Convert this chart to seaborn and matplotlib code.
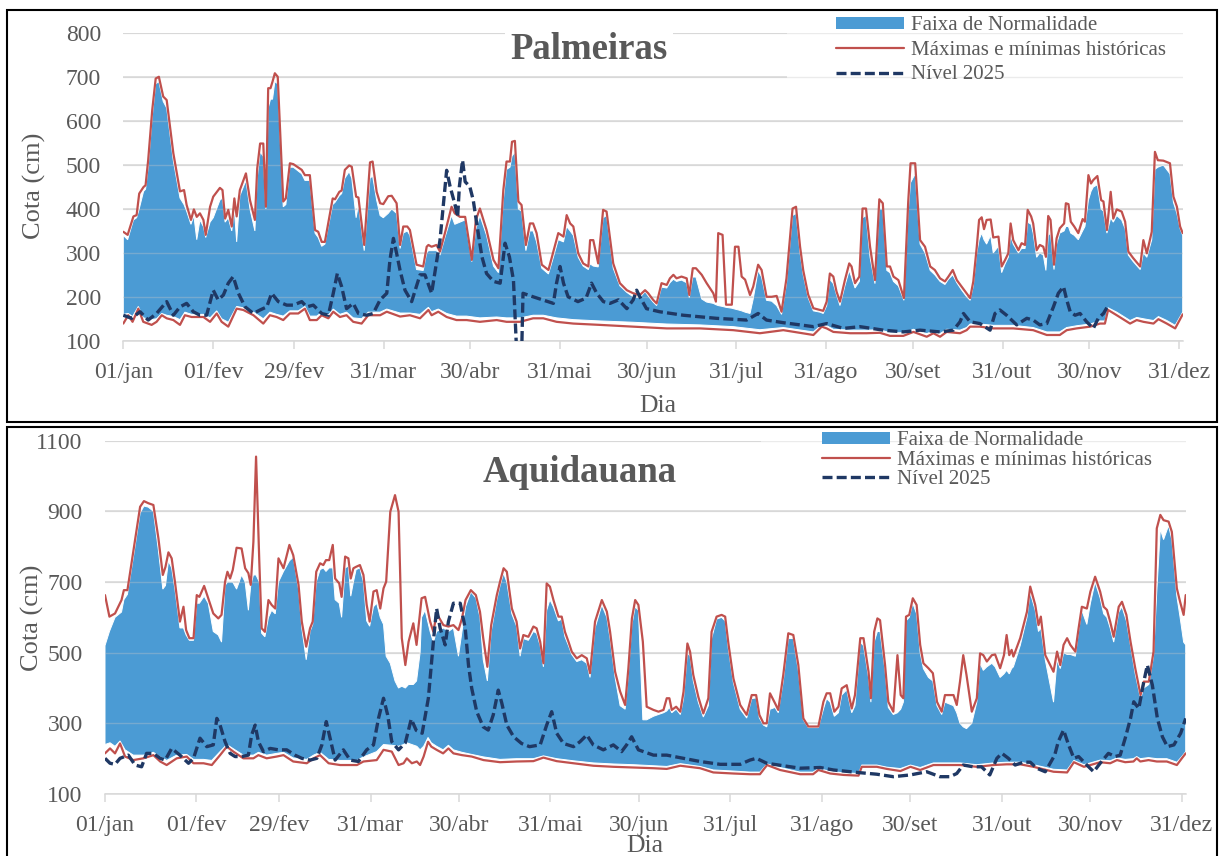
import matplotlib
matplotlib.use("Agg")
import numpy as np
import pandas as pd
import matplotlib.pyplot as plt
from matplotlib.patches import Rectangle, Patch
from matplotlib.lines import Line2D
import seaborn as sns

# ---------------- data ----------------
tick_days = [0, 31, 59, 90, 120, 151, 181, 212, 243, 273, 304, 334, 365]
tick_labels = ["01/jan", "01/fev", "29/fev", "31/mar", "30/abr", "31/mai", "30/jun",
               "31/jul", "31/ago", "30/set", "31/out", "30/nov", "31/dez"]
legend_labels = ["Faixa de Normalidade", "Máximas e mínimas históricas", "Nível 2025"]

# Palmeiras: (day, historical max, upper limit of normal band)
pal_hi = [(0,348,340),(1.5,341,330),(3.5,383,375),(4.6,386,380),(5.5,435,400),(7,450,440),(7.7,454,445),(8.6,511,495),(10,625,610),(11.2,697,685),(12.3,701,690),(13.8,656,645),(15,648,630),(17.3,527,510),(19.6,440,425),(21,443,410),(21.9,409,395),(23.4,375,365),(24.4,399,385),(25.4,382,330),(26.5,390,375),(27.7,375,360),(28.5,341,335),(30,405,370),(31.1,428,380),(33.4,448,420),(34.3,443,425),(35.2,378,370),(36.3,398,380),(37.5,360,350),(38.4,424,400),(39.2,383,325),(40.3,443,430),(42.4,481,465),(43.8,420,400),(45.5,375,350),(46.3,492,470),(47.3,549,530),(48.4,549,520),(49.3,405,400),(50.1,675,630),(50.9,675,650),(51.6,690,650),(52.4,709,690),(53.4,701,685),(55.3,417,405),(56.2,424,410),(57.6,504,495),(58.8,502,495),(61.7,489,480),(62.8,477,465),(64.5,477,465),(66.3,352,345),(67.4,348,335),(68.6,325,315),(69.7,325,320),(72.4,424,410),(73.2,422,415),(74.7,439,430),(75.5,442,435),(76.6,489,470),(78.1,499,485),(79,496,470),(80.5,428,380),(81.3,426,410),(83.3,318,305),(85.3,506,470),(86.2,508,475),(87.6,439,420),(88.8,413,385),(89.9,411,380),(91.6,429,390),(92.8,430,400),(94.5,413,390),(95.7,318,310),(96.8,360,345),(98.2,360,350),(99.1,352,340),(101.4,273,262),(103.7,269,260),(104.9,314,300),(105.5,318,305),(106.6,314,305),(108.3,318,305),(109.5,303,295),(111.2,345,335),(113.5,405,385),(114.6,390,365),(116.4,382,370),(118.2,382,375),(120.5,284,280),(121.9,375,355),(123.3,401,385),(125.6,352,340),(128,284,270),(129.7,265,255),(131.4,443,420),(132.5,508,490),(133.7,508,495),(134.4,553,520),(135.4,555,530),(136.6,417,400),(137.7,409,395),(139.2,318,305),(140.6,367,350),(141.7,367,350),(142.9,345,325),(144.7,273,265),(147,261,252),(148.7,303,290),(150.4,345,330),(152.2,337,325),(153.3,386,360),(154.5,367,350),(155.6,360,340),(157.3,299,290),(159,276,270),(160.8,269,262),(161.4,329,275),(162.5,329,270),(164.2,276,268),(165.9,398,380),(167.1,394,385),(169.4,276,265),(171.7,231,225),(174.1,215,210),(176.3,208,200),(178.6,204,198),(180.4,215,212),(181.5,208,202),(183.2,193,188),(184.4,185,180),(186.1,231,222),(187.9,227,220),(189,242,232),(190.2,250,240),(191.3,242,235),(193,246,238),(194.8,242,232),(195.7,204,198),(196.9,265,245),(198,265,245),(200,250,195),(201.7,231,188),(204,208,185),(204.9,189,182),(205.7,345,180),(207.2,341,178),(208.4,182,176),(210.4,182,174),(211.5,314,172),(212.7,314,170),(213.8,246,168),(215,239,165),(216.7,204,162),(217.8,223,195),(219.5,273,260),(220.7,261,245),(222.4,200,192),(224.2,200,190),(225.9,202,180),(227.6,166,160),(229.3,242,230),(231.4,401,385),(232.6,405,390),(234,314,300),(235.1,260,250),(236.8,205,198),(238.6,174,168),(240.9,170,165),(242,168,162),(243.2,189,180),(244.3,253,240),(245.5,246,230),(246.6,212,205),(247.8,189,180),(249.5,238,225),(251,276,260),(251.8,269,245),(253,231,220),(254.5,246,235),(255.6,401,380),(256.8,401,385),(258.2,314,290),(259.9,238,230),(261.4,422,400),(262.6,413,400),(264,269,260),(265.1,269,255),(266.3,246,235),(268,238,225),(269.9,197,192),(271.4,417,395),(272.2,504,460),(273.8,504,480),(275.5,329,320),(277.2,314,300),(279,269,260),(280.6,261,250),(282.4,242,235),(284.1,235,228),(285.3,246,240),(286.8,261,250),(288.2,238,232),(289.9,223,215),(291.6,208,200),(292.8,197,192),(293.9,235,225),(295.1,314,300),(295.9,375,330),(296.8,381,345),(297.6,354,330),(298.5,375,320),(299.9,376,340),(300.8,335,300),(302.6,337,315),(303.7,269,255),(304.9,284,275),(306,299,290),(306.8,367,340),(307.7,329,320),(309.5,306,300),(310.6,322,310),(311.8,318,310),(312.7,398,370),(313.9,383,365),(314.6,367,345),(315.8,306,290),(316.9,318,300),(318.1,314,295),(319,291,260),(319.8,384,340),(320.6,375,345),(321.8,273,262),(322.7,333,320),(323.8,356,345),(325.3,367,350),(325.9,413,360),(326.8,411,360),(327.6,371,345),(328.8,360,340),(330.2,345,330),(331.7,377,350),(332.5,371,360),(333.7,477,420),(334.6,458,440),(335.4,466,450),(336.8,475,455),(338.1,420,400),(338.9,417,395),(340.1,352,345),(341.4,439,380),(342.3,378,370),(343.5,399,385),(345.2,394,375),(346.4,371,355),(347.5,303,295),(349.2,288,280),(351.6,269,262),(352.7,329,300),(353.9,299,290),(355.6,348,330),(356.7,530,490),(357.7,511,495),(359.6,510,500),(361.9,504,480),(363.1,428,415),(364.3,405,390),(365.4,360,355),(366.3,345,340)]

# Palmeiras: (day, historical min, lower limit of normal band)
pal_lo = [(0,139,160),(1.7,158,162),(3.2,143,155),(5.2,173,178),(6.9,143,152),(9.8,136,148),(11.5,143,150),(13.3,158,162),(15,151,158),(17.3,147,155),(19.6,136,148),(21.3,158,165),(23.6,154,160),(27.7,154,160),(30,143,152),(32.3,162,168),(34,143,150),(36.3,132,142),(39.2,173,178),(41.5,170,175),(45,158,165),(48.4,139,150),(50.7,158,165),(53,154,160),(55.3,147,156),(57.6,162,168),(60.5,162,168),(62.8,173,178),(64.5,147,156),(66.9,147,156),(68.6,158,164),(70.9,151,158),(72.6,166,172),(74.9,154,160),(77.2,158,165),(79.5,143,152),(82.4,139,150),(84.7,158,165),(88.8,158,165),(91.1,166,172),(95.7,155,163),(99.1,158,163),(102.6,151,160),(105.5,170,176),(106.6,158,166),(108.9,166,172),(111.8,154,162),(115.2,147,156),(118.7,147,156),(123.3,143,152),(129.1,147,154),(132.5,143,152),(137.2,143,152),(141.7,151,158),(145.2,151,158),(149.8,143,152),(155.6,139,148),(164.8,136,145),(176.3,132,142),(187.9,128,138),(199.4,128,136),(210.9,124,132),(220.1,117,125),(228.2,124,130),(238.6,113,120),(241.5,132,136),(243.2,128,134),(245.5,120,126),(251.3,117,124),(257,117,124),(261.6,118,125),(265.1,111,118),(269.7,111,118),(273.2,120,126),(277.8,109,116),(280.1,117,122),(282.4,109,116),(284.7,120,126),(289.3,117,124),(291.6,124,130),(292.8,132,138),(296.2,132,138),(300.8,128,135),(307.7,128,135),(314.6,124,130),(319.3,113,120),(323.8,113,120),(326.2,124,130),(329.6,128,134),(334.3,132,138),(337.7,139,145),(339.4,139,145),(340.5,170,175),(343.5,158,165),(348.1,139,146),(350.4,147,153),(352.7,143,150),(356.2,139,146),(357.9,149,155),(360.8,139,146),(363.7,128,135),(366.3,160,165)]

# Palmeiras: (day, level 2025)
pal_niv = [(0,158),(2.9,151),(5.8,166),(8.6,147),(11.5,162),(15,189),(17.3,158),(19.6,177),(21.9,185),(24.2,166),(26.5,158),(28.8,158),(31.1,215),(32.8,193),(34.6,204),(36.3,231),(38,246),(39.8,208),(42.1,177),(45,162),(47.3,170),(49.6,177),(51.3,208),(53.6,189),(56.5,181),(58.8,181),(61.7,189),(63.4,177),(65.7,181),(68.6,162),(70.9,158),(72.6,208),(74,253),(75.5,223),(77.2,173),(79.5,185),(81.3,162),(84.1,158),(86.4,162),(88.8,193),(91.1,208),(92.2,284),(93.4,333),(94.5,299),(95.7,260),(97.4,215),(99.7,189),(101.4,225),(102.6,250),(104.3,250),(106.6,208),(109.5,329),(110.7,412),(111.8,488),(113,451),(114.6,412),(115.6,382),(116.2,451),(117.3,511),(118.2,462),(119.8,451),(121,420),(122.2,367),(124,291),(125.6,253),(128,235),(130.3,231),(132,322),(133.5,291),(134.9,238),(135.5,147),(136.1,60),(137.7,60),(138.2,208),(141.7,200),(148.7,185),(149.8,231),(151,269),(152.2,231),(153.8,200),(157.2,189),(160,197),(161.9,231),(163.7,208),(166,189),(168.3,185),(171.2,193),(174.1,173),(176.3,193),(177.5,215),(178.6,200),(180.9,173),(185.4,166),(193.6,158),(205,151),(215.5,147),(219.5,162),(222.4,147),(228.2,141),(234,136),(238.6,132),(243.2,139),(249,128),(254.7,132),(262.8,124),(269.7,120),(275.5,124),(282.4,120),(287,124),(289.3,143),(290.5,162),(292.8,143),(296.2,139),(299.7,124),(301.4,162),(303.1,170),(305.4,158),(308.9,136),(312.4,151),(314.6,147),(316.9,136),(319.3,139),(321.6,177),(323.3,208),(325.1,223),(326.2,193),(327.4,166),(329.1,158),(330.8,162),(333.1,143),(335.4,128),(337.1,151),(338.9,162),(340.6,181)]

# Aquidauana: (day, historical max, upper limit of normal band)
aqu_hi = [(0,663,520),(1.5,602,560),(3.4,611,600),(5.6,649,615),(6.4,677,650),(7.6,677,665),(9.6,786,770),(11.9,913,895),(13.2,929,915),(14.7,923,912),(16.4,918,900),(18.1,824,790),(19.6,720,680),(20.5,743,690),(21.5,784,760),(22.6,767,740),(23.7,701,680),(25.4,588,570),(26.6,630,570),(27.5,564,550),(28.6,541,535),(30,541,535),(31.1,663,640),(32,658,640),(33.6,689,660),(35,654,640),(36.7,611,560),(38.4,597,550),(39.5,607,530),(40.7,701,690),(41.5,729,700),(42.4,710,700),(43.3,734,700),(44.6,797,680),(46.3,795,720),(47.5,739,700),(48.6,725,620),(49.4,692,690),(50.3,814,720),(51.2,1055,720),(52.3,758,700),(53.1,569,555),(54.2,559,545),(55.4,649,600),(56.5,635,620),(57.7,625,610),(58.8,767,700),(60.5,739,730),(62.5,805,760),(63.8,776,770),(65.6,692,680),(66.7,588,570),(68.2,517,480),(69.5,569,560),(70.4,588,580),(71.6,729,700),(72.9,753,735),(74,748,740),(74.9,762,730),(76,762,740),(77.2,805,740),(78,710,650),(79.4,696,640),(80.2,658,600),(81.4,772,740),(82.5,767,745),(83.3,710,660),(84.2,739,700),(85.1,743,735),(86.4,748,740),(87.6,720,700),(88.7,635,590),(89.7,588,575),(91,673,630),(92.1,677,640),(93.3,625,600),(94.4,682,580),(95.3,701,490),(96.7,899,470),(98.3,946,420),(99.5,899,400),(100.6,541,405),(101.8,465,400),(102.9,531,410),(104.5,583,410),(105.6,522,420),(106.8,616,500),(107.3,654,600),(108.5,658,620),(110.2,588,560),(111.3,559,530),(112.4,611,560),(114.7,578,570),(116.4,574,560),(118.1,578,570),(119.8,564,490),(121,597,560),(122.2,649,630),(124,677,672),(125.7,663,655),(127.1,616,600),(128.2,541,480),(129.6,460,420),(130.9,578,560),(132.8,663,650),(133.9,701,690),(135.1,739,725),(136.2,729,700),(137.9,625,610),(139.5,588,575),(140.7,512,490),(141.8,550,540),(143.5,545,535),(145.2,574,560),(146.3,569,555),(147.5,531,520),(148.6,470,460),(149.7,696,620),(150.8,687,650),(152,649,630),(153.7,602,590),(154.8,602,595),(155.9,559,545),(157.1,531,520),(158.2,503,495),(159.9,484,475),(161.6,493,480),(163.3,484,470),(164.4,442,430),(166.1,588,570),(168.4,649,635),(170.1,616,600),(171.2,559,540),(172.9,446,430),(174.6,390,350),(176.3,352,340),(177.4,456,440),(178.6,597,580),(179.7,649,630),(180.8,635,620),(182.3,531,310),(183.6,347,310),(185.9,338,320),(187.6,333,325),(189.3,338,330),(190.4,371,335),(191.3,371,345),(192.1,338,330),(193.6,347,340),(195,333,325),(196.1,390,370),(197.4,526,500),(198.3,503,490),(199.4,437,420),(201.1,375,360),(202.8,328,318),(204.5,371,350),(205.6,559,540),(207.3,602,595),(209,607,600),(210.2,602,590),(211.3,526,510),(213,427,415),(215.3,352,340),(217.5,324,315),(219.2,380,370),(220.7,380,372),(221.8,324,315),(223.2,300,295),(224.3,300,290),(225.4,385,340),(227.1,357,345),(228.2,338,330),(229.9,437,420),(231.6,555,540),(233.3,550,540),(235,465,450),(236.7,314,310),(238.4,291,288),(241.8,291,288),(243.5,361,340),(244.6,385,370),(245.8,385,360),(247.2,333,320),(248.6,347,330),(249.7,399,380),(251.4,408,395),(253.1,342,330),(254.2,380,350),(256,541,530),(257.1,541,520),(258.8,446,430),(259.6,371,360),(260.7,559,530),(261.8,597,560),(262.7,592,560),(264.4,465,450),(265.5,361,345),(267.2,333,325),(268.6,493,330),(269.7,380,340),(270.6,371,360),(271.5,602,590),(272.6,607,600),(273.8,654,640),(275.1,635,610),(276.3,522,500),(277.4,470,455),(279.1,456,430),(280.6,442,420),(282,361,350),(283.6,333,325),(284.7,380,360),(287.6,380,350),(288.7,352,330),(289.8,418,300),(290.9,493,290),(292,437,285),(293.8,333,300),(295.5,371,360),(296.6,498,470),(297.7,493,450),(298.9,475,460),(300.6,493,470),(301.7,495,460),(303.4,456,430),(304.7,493,440),(305.6,550,450),(306.5,493,440),(307.3,508,455),(307.9,489,460),(310.2,541,520),(312.5,616,600),(313.6,687,670),(315.3,635,620),(316.4,578,560),(317.2,602,570),(318.7,493,480),(321.5,446,360),(322.7,503,480),(323.8,465,455),(324.9,522,500),(326.1,541,495),(327.2,522,495),(328.9,503,490),(330,569,560),(331.1,630,620),(332.8,625,580),(334,673,640),(335.6,715,700),(337.3,673,655),(338.5,630,610),(339.6,621,600),(340.7,588,570),(341.9,545,530),(343.6,630,615),(344.7,644,630),(346.2,607,590),(347.6,531,520),(349.2,456,440),(351,380,370),(352.1,418,400),(353.8,418,410),(355.4,503,490),(356.5,852,673),(357.7,890,850),(358.8,875,820),(360.5,871,860),(361.6,842,820),(363.3,682,660),(364.4,644,600),(365.6,607,530),(366.3,663,522)]

# Aquidauana: (day, historical min, lower limit of normal band)
aqu_lo = [(0,215,240),(1.7,229,245),(3.4,215,235),(5.1,243,250),(6.8,206,225),(9.6,196,210),(13,201,210),(16.4,210,218),(18.7,192,205),(20.9,182,195),(24.3,201,210),(27.7,206,212),(30,187,198),(33.4,187,198),(36.2,182,195),(39,210,220),(41.3,234,240),(43.5,220,228),(46.9,201,210),(50.3,201,210),(52,210,218),(54.8,201,210),(58.2,206,215),(60.5,210,218),(63.8,192,202),(68.4,187,198),(70.7,201,210),(72.9,210,218),(75.8,187,198),(79.7,182,195),(85.4,182,195),(87.6,192,205),(92.1,196,220),(94.4,225,240),(97.2,220,238),(99.5,182,235),(101.2,187,240),(102.3,201,245),(104,187,240),(105.7,192,235),(106.8,182,225),(108,206,235),(109.5,248,260),(110.6,234,245),(112.4,225,235),(114.6,215,225),(116.4,229,238),(118.1,215,225),(121,210,218),(124.3,206,212),(128.3,196,205),(133.9,190,198),(139.5,192,200),(145.2,193,200),(148.6,203,208),(153.1,193,200),(158.8,187,194),(165.5,180,188),(172.3,177,185),(179.1,175,183),(185.9,173,180),(190.4,171,178),(195,180,186),(201.7,173,178),(206.2,161,168),(213,158,165),(218.6,156,162),(222,156,162),(224.4,182,185),(228.8,168,175),(235.6,156,162),(240,156,162),(241.8,168,172),(245.8,158,164),(250.3,154,160),(255.4,152,158),(256.5,177,182),(261.6,177,182),(265,171,176),(269.6,165,172),(273,177,182),(276.3,168,175),(280.8,182,188),(289.8,182,188),(295.5,177,183),(301.2,182,188),(305.6,184,190),(310.2,184,190),(314.7,177,183),(321.5,163,170),(326.1,161,168),(328.4,190,195),(331.8,177,183),(334,182,188),(337.3,190,196),(340.7,187,194),(343,196,202),(345.8,190,198),(348.6,192,200),(349.7,201,206),(350.9,192,200),(353.7,196,203),(356.5,192,200),(359.9,192,200),(363.3,182,190),(365,201,206),(366.3,215,220)]

# Aquidauana: (day, level 2025)
aqu_niv = [(0,201),(1.7,187),(3.4,184),(5.1,201),(7.9,210),(10.2,182),(12.4,177),(14.1,215),(16.4,215),(18.7,201),(20.4,196),(22.6,229),(25.4,210),(28.3,187),(30,201),(32.2,258),(34.5,234),(36.7,239),(37.9,314),(39,295),(40.7,248),(42.4,215),(44.1,206),(46.3,206),(48.6,210),(49.7,267),(50.9,295),(52,248),(53.7,220),(56,229),(58.8,225),(61.6,225),(64.4,210),(66.7,201),(69.5,196),(71.8,201),(73.5,239),(75,305),(76.3,258),(78,196),(80.8,225),(83.1,196),(85.9,192),(88.7,225),(91,239),(92.7,314),(94.4,371),(95.8,324),(97.2,248),(99.5,225),(101.8,245),(103.8,312),(105.5,280),(107.5,272),(109.6,371),(111.3,531),(112.4,625),(113.6,569),(115.3,522),(116.4,588),(118.1,640),(120.4,640),(122.1,569),(123.2,465),(124.3,399),(126,333),(128.2,290),(129.9,281),(131.6,324),(133.3,394),(134.5,357),(136.2,295),(138.5,262),(141.2,243),(143.9,234),(147.5,239),(149.7,295),(151.4,333),(153.1,272),(155.4,243),(158.8,234),(161,248),(163.3,267),(165.5,239),(168.9,225),(172.3,239),(175.1,220),(176.8,239),(178.5,262),(180.8,225),(185.9,210),(190.4,210),(196.1,201),(201.7,192),(208.5,184),(215.3,184),(218.6,196),(220.8,201),(224.3,187),(229.9,180),(235.6,173),(242.4,175),(246.9,168),(255,161),(261.6,156),(267.2,149),(273,154),(278.5,163),(283,149),(286.4,149),(288.7,158),(290.9,182),(294.3,177),(297.1,177),(299.9,154),(302.3,201),(304,215),(306.2,201),(308.5,182),(311.3,190),(313.6,190),(315.8,173),(318.7,163),(321.9,210),(323.1,248),(324.9,281),(326.6,239),(328.4,201),(330,206),(332.8,182),(335.1,163),(337.3,187),(340.1,215),(342.4,206),(344.1,210),(345.8,258),(347.6,314),(348.7,361),(350.4,342),(352.1,418),(353.3,465),(355,408),(356.7,314),(358.4,262),(360.1,234),(362.3,239),(364.6,272),(366.3,314)]

# ---------------- style ----------------
sns.set_theme(style="white")
plt.rcParams["font.family"] = ["Liberation Serif", "DejaVu Serif"]

W, H = 1220, 856
BLUE = "#4b9bd4"
RED = "#c0504d"
NAVY = "#1f3864"
GRID = "#d9d9d9"
TXT = "#595959"
DASH = (0, (3.0, 1.25))


def fx(px):
    return px / W


def fy(py):
    return 1 - py / H


fig = plt.figure(figsize=(W / 100, H / 100), dpi=100)


def draw_panel(box, hi, lo, niv, ylim, yticks, title, title_xy, title_bbox,
               leg_xy, leg_sp, cover, ylab_xy, xlab_xy):
    left, top, right, bottom = box
    ax = fig.add_axes([fx(left), fy(bottom), fx(right) - fx(left), fy(top) - fy(bottom)])
    ax.set_facecolor("white")

    hi_df = pd.DataFrame(hi, columns=["dia", "maxima", "faixa_sup"])
    lo_df = pd.DataFrame(lo, columns=["dia", "minima", "faixa_inf"])
    nv_df = pd.DataFrame(niv, columns=["dia", "nivel"])

    # normal band polygon
    px = np.concatenate([hi_df["dia"].values, lo_df["dia"].values[::-1]])
    py = np.concatenate([hi_df["faixa_sup"].values, lo_df["faixa_inf"].values[::-1]])
    ax.fill(px, py, facecolor=BLUE, edgecolor="white", linewidth=0.7, zorder=2)

    # faint grid lines showing through the band
    for yv in yticks:
        ax.axhline(yv, color="#c8c8c8", linewidth=1.0, alpha=0.35, zorder=2.5)

    sns.lineplot(data=hi_df, x="dia", y="maxima", ax=ax, color=RED, linewidth=1.6,
                 estimator=None, sort=False, legend=False, zorder=3)
    sns.lineplot(data=lo_df, x="dia", y="minima", ax=ax, color=RED, linewidth=1.6,
                 estimator=None, sort=False, legend=False, zorder=3)
    sns.lineplot(data=nv_df, x="dia", y="nivel", ax=ax, color=NAVY, linewidth=2.4,
                 linestyle=DASH, estimator=None, sort=False, legend=False, zorder=4)

    ax.set_xlim(0, 366.3)
    ax.set_ylim(*ylim)
    ax.set_yticks(yticks)
    ax.set_xticks(tick_days)
    ax.set_xticklabels(tick_labels)
    ax.yaxis.grid(True, color=GRID, linewidth=1.1)
    ax.xaxis.grid(False)
    ax.set_axisbelow(True)
    for s in ["top", "right", "left"]:
        ax.spines[s].set_visible(False)
    ax.spines["bottom"].set_color(GRID)
    ax.spines["bottom"].set_linewidth(1.1)
    ax.tick_params(axis="x", direction="out", length=5.5, width=1.1, color=GRID,
                   labelsize=17, labelcolor=TXT, pad=9.5, bottom=True)
    ax.tick_params(axis="y", length=0, labelsize=17, labelcolor=TXT, pad=16)

    ax.set_ylabel("Cota (cm)", fontsize=19, color=TXT)
    ax.yaxis.set_label_coords(*ylab_xy)
    ax.set_xlabel("Dia", fontsize=18.5, color=TXT)
    ax.xaxis.set_label_coords(*xlab_xy)

    # white area behind legend (covers grid lines)
    cx0, cy0, cx1, cy1 = cover
    ax.add_patch(Rectangle((fx(cx0), fy(cy1)), fx(cx1) - fx(cx0), fy(cy0) - fy(cy1),
                           transform=fig.transFigure, facecolor="white",
                           edgecolor="none", zorder=1))

    kw = {}
    if title_bbox:
        kw["bbox"] = dict(facecolor="white", edgecolor="none", pad=4)
    fig.text(fx(title_xy[0]), fy(title_xy[1]), title, fontsize=26.5, fontweight="bold",
             color=TXT, ha="center", va="baseline", zorder=6, **kw)

    handles = [Patch(facecolor=BLUE, edgecolor="none"),
               Line2D([], [], color=RED, linewidth=1.6),
               Line2D([], [], color=NAVY, linewidth=2.4, linestyle=DASH)]
    leg = ax.legend(handles, legend_labels, loc="upper left",
                    bbox_to_anchor=(fx(leg_xy[0]), fy(leg_xy[1])),
                    bbox_transform=fig.transFigure, frameon=False, fontsize=15,
                    borderpad=0, borderaxespad=0, handlelength=3.27, handleheight=0.45,
                    handletextpad=0.33, labelspacing=leg_sp)
    for t in leg.get_texts():
        t.set_color(TXT)
    leg.set_zorder(7)
    return ax


# Palmeiras panel
draw_panel(box=(123.3, 33.3, 1182.7, 340.7), hi=pal_hi, lo=pal_lo, niv=pal_niv,
           ylim=(100, 800), yticks=list(range(100, 801, 100)), title="Palmeiras",
           title_xy=(589, 59), title_bbox=True, leg_xy=(836, 16.5), leg_sp=0.26,
           cover=(787, 10, 1190, 95), ylab_xy=(-0.0733, 0.503),
           xlab_xy=(0.5047, -0.1766))

# Aquidauana panel
draw_panel(box=(105, 440.7, 1185.7, 794), hi=aqu_hi, lo=aqu_lo, niv=aqu_niv,
           ylim=(100, 1100), yticks=list(range(100, 1101, 200)), title="Aquidauana",
           title_xy=(579.5, 482), title_bbox=False, leg_xy=(822, 431.5), leg_sp=0.005,
           cover=(761, 427, 1190, 492), ylab_xy=(-0.0567, 0.498),
           xlab_xy=(0.4997, -0.116))

# panel frames
fig.add_artist(Rectangle((fx(7), fy(421.5)), fx(1216.5) - fx(7), fy(10) - fy(421.5),
                         transform=fig.transFigure, fill=False, edgecolor="black",
                         linewidth=1.5))
fig.add_artist(Rectangle((fx(7), fy(880)), fx(1216.5) - fx(7), fy(427) - fy(880),
                         transform=fig.transFigure, fill=False, edgecolor="black",
                         linewidth=1.5))

fig.savefig("out.png", dpi=100, facecolor="white")
